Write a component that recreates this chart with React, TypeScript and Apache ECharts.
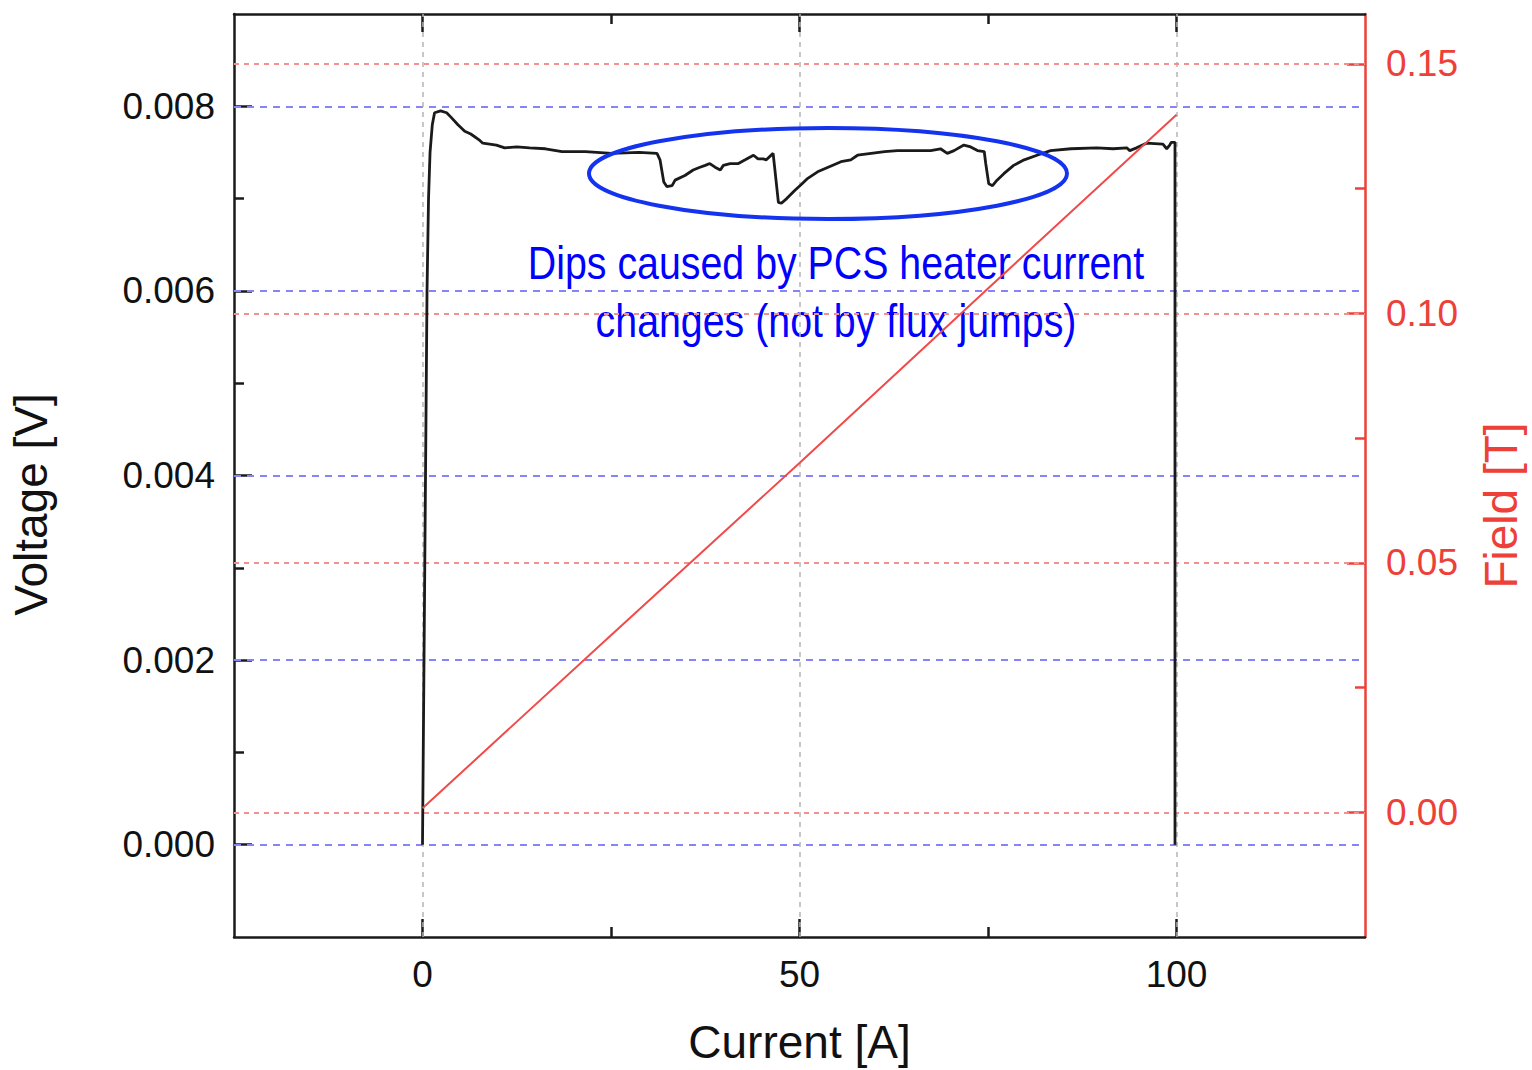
import React, { useEffect, useRef } from "react";
import * as echarts from "echarts";

// Voltage trace (Current [A] vs Voltage [V])
const voltageCurrent = [
  0, 0.3, 0.6, 0.8, 1.0, 1.3, 1.6, 2.4, 3.2, 3.8, 4.7, 5.6, 6.4, 7.6, 8.0, 9.8, 10.9, 12.5, 14.2, 16.3,
  18.5, 21.6, 25.1, 28.7, 31.1, 31.5, 32.0, 32.4, 33.1, 33.5, 34.8, 35.9, 36.8, 37.5, 38.1, 38.8, 39.5,
  39.9, 40.8, 41.9, 42.8, 43.9, 44.5, 45.2, 45.6, 46.5, 46.7, 47.2, 47.6, 48.3, 49.4, 50.2, 51.1, 52.4,
  53.8, 55.5, 56.8, 57.7, 59.5, 61.3, 63.0, 65.2, 67.4, 68.7, 69.6, 70.5, 71.8, 72.7, 73.6, 74.5, 74.7,
  75.1, 75.6, 76.2, 77.1, 78.4, 79.8, 81.5, 83.3, 86.0, 89.4, 91.6, 93.4, 93.8, 94.7, 96.0, 98.2, 98.7,
  99.1, 99.3, 99.8, 99.8,
];
const voltageValues = [
  0, 0.003, 0.006, 0.007, 0.0075, 0.0078, 0.00793, 0.00795, 0.00793, 0.00788, 0.0078, 0.00773, 0.0077,
  0.00763, 0.0076, 0.00758, 0.00755, 0.00756, 0.00755, 0.00754, 0.00751, 0.00751, 0.00749, 0.0075, 0.00749,
  0.00742, 0.00718, 0.00713, 0.00714, 0.0072, 0.00725, 0.00731, 0.00734, 0.00736, 0.00738, 0.00734, 0.00731,
  0.00736, 0.00738, 0.00738, 0.00742, 0.00747, 0.00743, 0.00743, 0.00742, 0.00749, 0.00734, 0.00696, 0.00695,
  0.007, 0.00709, 0.00715, 0.00722, 0.00729, 0.00734, 0.0074, 0.00742, 0.00747, 0.00749, 0.00751, 0.00752,
  0.00752, 0.00752, 0.00754, 0.00749, 0.00752, 0.00758, 0.00756, 0.00752, 0.00751, 0.00738, 0.00716, 0.00714,
  0.0072, 0.00727, 0.00736, 0.00742, 0.00747, 0.00752, 0.00754, 0.00755, 0.00754, 0.00755, 0.00752, 0.00755,
  0.0076, 0.00759, 0.00754, 0.00758, 0.00761, 0.00761, 0,
];

// Field trace (Current [A] vs Field [T])
const fieldCurrent = [0, 25, 50, 75, 100];
const fieldValues = [0.0008, 0.0355, 0.07, 0.105, 0.1398];

// Tick values
const xMajorTicks = [0, 50, 100];
const xMinorTicks = [25, 75];
const voltageMajorTicks = [0, 0.002, 0.004, 0.006, 0.008];
const voltageMinorTicks = [0.001, 0.003, 0.005, 0.007];
const fieldMajorTicks = [0, 0.05, 0.1, 0.15];
const fieldMinorTicks = [0.025, 0.075, 0.125];

const annotationLines = ["Dips caused by PCS heater current", "changes (not by flux jumps)"];

const FONT = "'Liberation Sans', Arial, Helvetica, sans-serif";
const BLACK = "#1a1a1a";
const RED = "#ec4038";

export default function App() {
  const ref = useRef<HTMLDivElement>(null);

  useEffect(() => {
    if (!ref.current) return;
    const chart = echarts.init(ref.current, undefined, { renderer: "svg" });

    const voltageData = voltageCurrent.map((c, i) => [c, voltageValues[i]]);
    const fieldData = fieldCurrent.map((c, i) => [c, fieldValues[i]]);

    const xRange = { min: -25, max: 125 };
    const vRange = { min: -0.001, max: 0.009 };
    const fRange = { min: -0.025, max: 0.16 };

    const tickAxis = (
      range: any,
      position: string,
      ticks: number[],
      len: number,
      color: string,
      showLine: boolean
    ) => ({
      type: "value",
      ...range,
      position,
      axisLine: { show: showLine, onZero: false, lineStyle: { color, width: 2.5 } },
      axisTick: { show: true, inside: true, length: len, customValues: ticks, lineStyle: { color, width: 2.5 } },
      axisLabel: { show: false },
      splitLine: { show: false },
    });

    const option: any = {
      animation: false,
      backgroundColor: "#ffffff",
      grid: { left: 233, top: 14, width: 1139, height: 924, containLabel: false },
      xAxis: [
        {
          ...tickAxis(xRange, "bottom", xMajorTicks, 18, BLACK, true),
          axisLabel: {
            show: true,
            customValues: xMajorTicks,
            fontSize: 37,
            fontFamily: FONT,
            color: "#111",
            margin: 19,
            formatter: (v: number) => String(v),
          },
          name: "Current [A]",
          nameLocation: "middle",
          nameGap: 82,
          nameTextStyle: { fontSize: 46, fontFamily: FONT, color: "#111" },
        },
        tickAxis(xRange, "bottom", xMinorTicks, 10, BLACK, false),
        tickAxis(xRange, "top", xMajorTicks, 18, BLACK, true),
        tickAxis(xRange, "top", xMinorTicks, 10, BLACK, false),
      ],
      yAxis: [
        {
          ...tickAxis(vRange, "left", voltageMajorTicks, 18, BLACK, true),
          axisLabel: {
            show: true,
            customValues: voltageMajorTicks,
            fontSize: 37,
            fontFamily: FONT,
            color: "#111",
            margin: 19,
            formatter: (v: number) => v.toFixed(3),
          },
          name: "Voltage [V]",
          nameLocation: "middle",
          nameGap: 180,
          nameTextStyle: { fontSize: 46, fontFamily: FONT, color: "#111", padding: [0, 58, 0, 0] },
        },
        tickAxis(vRange, "left", voltageMinorTicks, 10, BLACK, false),
        {
          ...tickAxis(fRange, "right", fieldMajorTicks, 18, RED, true),
          axisLabel: {
            show: true,
            customValues: fieldMajorTicks,
            fontSize: 37,
            fontFamily: FONT,
            color: RED,
            margin: 21,
            formatter: (v: number) => v.toFixed(2),
          },
          name: "Field [T]",
          nameLocation: "middle",
          nameGap: 113,
          nameTextStyle: { fontSize: 46, fontFamily: FONT, color: RED, padding: [0, 60, 0, 0] },
        },
        tickAxis(fRange, "right", fieldMinorTicks, 10, RED, false),
      ],
      series: [
        {
          name: "Voltage",
          type: "line",
          xAxisIndex: 0,
          yAxisIndex: 0,
          data: voltageData,
          showSymbol: false,
          symbol: "none",
          z: 5,
          lineStyle: { color: BLACK, width: 2.8 },
          markLine: {
            silent: true,
            precision: 6,
            symbol: ["none", "none"],
            label: { show: false },
            animation: false,
            data: [
              ...voltageMajorTicks.map((v) => ({
                yAxis: v,
                lineStyle: { color: "#8585f5", width: 2, type: [7, 6] },
              })),
              ...xMajorTicks.map((v) => ({
                xAxis: v,
                lineStyle: { color: "#b5b5b5", width: 1.5, type: [5, 5] },
              })),
            ],
          },
        },
        {
          name: "Field",
          type: "line",
          xAxisIndex: 0,
          yAxisIndex: 2,
          data: fieldData,
          showSymbol: false,
          symbol: "none",
          z: 6,
          lineStyle: { color: "#f04a4a", width: 2 },
          markLine: {
            silent: true,
            precision: 6,
            symbol: ["none", "none"],
            label: { show: false },
            animation: false,
            data: fieldMajorTicks.map((v) => ({
              yAxis: v,
              lineStyle: { color: "#f29090", width: 2, type: [5, 5] },
            })),
          },
        },
      ],
      graphic: [
        {
          type: "ellipse",
          shape: { cx: 828, cy: 173.5, rx: 239, ry: 45.5 },
          style: { fill: "none", stroke: "#1433ee", lineWidth: 4 },
          z: 100,
        },
        {
          type: "group",
          x: 836,
          y: 0,
          scaleX: 0.855,
          z: 100,
          children: annotationLines.map((t, i) => ({
            type: "text",
            x: 0,
            y: 263 + i * 58,
            style: {
              text: t,
              fontSize: 46,
              fontFamily: FONT,
              fill: "#0000ff",
              align: "center",
              verticalAlign: "middle",
              textAlign: "center",
              textVerticalAlign: "middle",
            },
          })),
        },
      ],
    };

    chart.setOption(option);
    return () => chart.dispose();
  }, []);

  return (
    <div
      ref={ref}
      style={{ position: "fixed", left: 0, top: 0, width: 1532, height: 1070, background: "#fff" }}
    />
  );
}
